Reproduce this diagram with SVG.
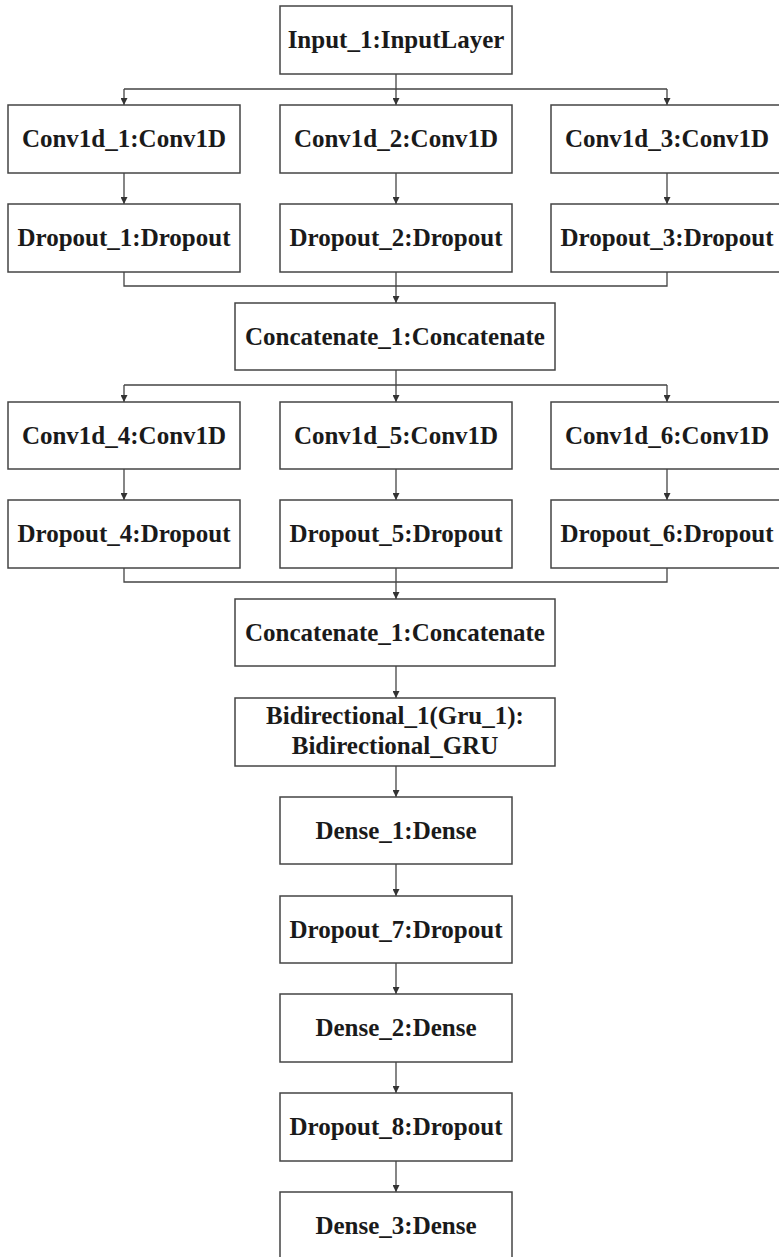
<svg xmlns="http://www.w3.org/2000/svg" width="779" height="1257" viewBox="0 0 779 1257">
<defs>
<marker id="arr" viewBox="0 0 10 10" refX="10" refY="5" markerWidth="8" markerHeight="7" markerUnits="userSpaceOnUse" orient="auto">
<path d="M0,0 L10,5 L0,10 z" fill="#333"/>
</marker>
<style>
.box{fill:#fff;stroke:#444;stroke-width:1.5}
.lbl{font-family:"Liberation Serif","Times New Roman",serif;font-weight:bold;font-size:25px;fill:#1a1a1a;text-anchor:middle}
.ln{fill:none;stroke:#444;stroke-width:1.3}
.ar{fill:none;stroke:#444;stroke-width:1.3;marker-end:url(#arr)}
</style>
</defs>
<rect width="779" height="1257" fill="#fff"/>
<g id="connectors">
<path class="ln" d="M396,74 V89 M124,89 H667"/>
<path class="ar" d="M124,89 V105"/>
<path class="ar" d="M396,89 V105"/>
<path class="ar" d="M667,89 V105"/>
<path class="ar" d="M124,173 V204"/>
<path class="ar" d="M396,173 V204"/>
<path class="ar" d="M667,173 V204"/>
<path class="ln" d="M124,272 V286 H667 V272 M396,272 V286"/>
<path class="ar" d="M396,286 V303"/>
<path class="ln" d="M396,370 V385 M124,385 H667"/>
<path class="ar" d="M124,385 V402"/>
<path class="ar" d="M396,385 V402"/>
<path class="ar" d="M667,385 V402"/>
<path class="ar" d="M124,469 V500"/>
<path class="ar" d="M396,469 V500"/>
<path class="ar" d="M667,469 V500"/>
<path class="ln" d="M124,568 V582 H667 V568 M396,568 V582"/>
<path class="ar" d="M396,582 V599"/>
<path class="ar" d="M396,666 V698"/>
<path class="ar" d="M396,766 V797"/>
<path class="ar" d="M396,864 V896"/>
<path class="ar" d="M396,963 V994"/>
<path class="ar" d="M396,1062 V1093"/>
<path class="ar" d="M396,1161 V1192"/>
</g>
<g id="input1"><rect class="box" x="280" y="6" width="232" height="68"/><text class="lbl" x="396" y="48">Input_1:InputLayer</text></g>
<g id="conv1"><rect class="box" x="8" y="105" width="232" height="68"/><text class="lbl" x="124" y="147">Conv1d_1:Conv1D</text></g>
<g id="conv2"><rect class="box" x="280" y="105" width="232" height="68"/><text class="lbl" x="396" y="147">Conv1d_2:Conv1D</text></g>
<g id="conv3"><rect class="box" x="551" y="105" width="232" height="68"/><text class="lbl" x="667" y="147">Conv1d_3:Conv1D</text></g>
<g id="drop1"><rect class="box" x="8" y="204" width="232" height="68"/><text class="lbl" x="124" y="246">Dropout_1:Dropout</text></g>
<g id="drop2"><rect class="box" x="280" y="204" width="232" height="68"/><text class="lbl" x="396" y="246">Dropout_2:Dropout</text></g>
<g id="drop3"><rect class="box" x="551" y="204" width="232" height="68"/><text class="lbl" x="667" y="246">Dropout_3:Dropout</text></g>
<g id="concat1"><rect class="box" x="235" y="303" width="320" height="67"/><text class="lbl" x="395" y="345">Concatenate_1:Concatenate</text></g>
<g id="conv4"><rect class="box" x="8" y="402" width="232" height="67"/><text class="lbl" x="124" y="444">Conv1d_4:Conv1D</text></g>
<g id="conv5"><rect class="box" x="280" y="402" width="232" height="67"/><text class="lbl" x="396" y="444">Conv1d_5:Conv1D</text></g>
<g id="conv6"><rect class="box" x="551" y="402" width="232" height="67"/><text class="lbl" x="667" y="444">Conv1d_6:Conv1D</text></g>
<g id="drop4"><rect class="box" x="8" y="500" width="232" height="68"/><text class="lbl" x="124" y="542">Dropout_4:Dropout</text></g>
<g id="drop5"><rect class="box" x="280" y="500" width="232" height="68"/><text class="lbl" x="396" y="542">Dropout_5:Dropout</text></g>
<g id="drop6"><rect class="box" x="551" y="500" width="232" height="68"/><text class="lbl" x="667" y="542">Dropout_6:Dropout</text></g>
<g id="concat2"><rect class="box" x="235" y="599" width="320" height="67"/><text class="lbl" x="395" y="641">Concatenate_1:Concatenate</text></g>
<g id="bigru"><rect class="box" x="235" y="698" width="320" height="68"/><text class="lbl" x="395" y="724">Bidirectional_1(Gru_1):</text><text class="lbl" x="395" y="754">Bidirectional_GRU</text></g>
<g id="dense1"><rect class="box" x="280" y="797" width="232" height="67"/><text class="lbl" x="396" y="839">Dense_1:Dense</text></g>
<g id="drop7"><rect class="box" x="280" y="896" width="232" height="67"/><text class="lbl" x="396" y="938">Dropout_7:Dropout</text></g>
<g id="dense2"><rect class="box" x="280" y="994" width="232" height="68"/><text class="lbl" x="396" y="1036">Dense_2:Dense</text></g>
<g id="drop8"><rect class="box" x="280" y="1093" width="232" height="68"/><text class="lbl" x="396" y="1135">Dropout_8:Dropout</text></g>
<g id="dense3"><rect class="box" x="280" y="1192" width="232" height="68"/><text class="lbl" x="396" y="1234">Dense_3:Dense</text></g>
</svg>
